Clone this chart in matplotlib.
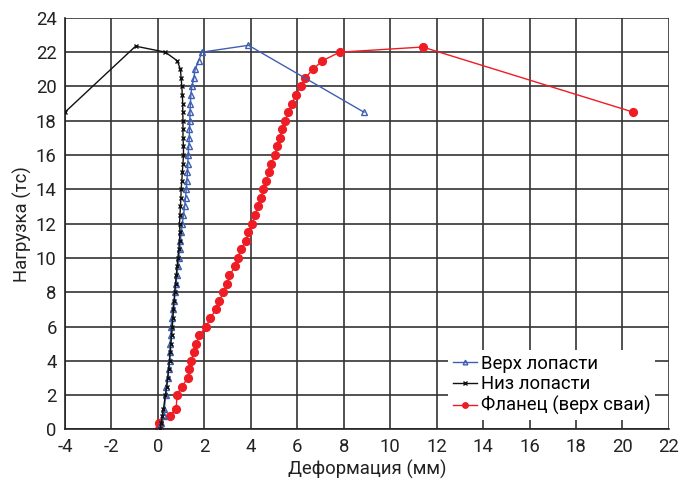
import matplotlib
matplotlib.use("Agg")
import matplotlib.pyplot as plt

plt.rcParams["font.family"] = ["Roboto", "DejaVu Sans"]
plt.rcParams["axes.unicode_minus"] = False

# load steps shared by all three gauges (tc)
loads = [0, 0.4, 0.8, 1.2, 2.0, 2.5, 3.0, 3.5, 4.0, 4.5, 5.0, 5.5, 6.0, 6.5,
         7.0, 7.5, 8.0, 8.5, 9.0, 9.5, 10.0, 10.5, 11.0, 11.5, 12.0, 12.5,
         13.0, 13.5, 14.0, 14.5, 15.0, 15.5, 16.0, 16.5, 17.0, 17.5, 18.0,
         18.5, 19.0, 19.5, 20.0, 20.5, 21.0, 21.5, 22.0]

# blade top
top_x = [0.10, 0.15, 0.25, 0.28, 0.33, 0.36, 0.43, 0.46, 0.50, 0.51, 0.53,
         0.55, 0.57, 0.60, 0.64, 0.70, 0.75, 0.78, 0.81, 0.85, 0.90, 0.93,
         0.97, 1.00, 1.05, 1.10, 1.15, 1.19, 1.22, 1.25, 1.27, 1.29, 1.30,
         1.33, 1.35, 1.36, 1.38, 1.38, 1.40, 1.42, 1.46, 1.55, 1.60, 1.76, 1.89]
top_tail_x = [3.90, 8.87]
top_tail_y = [22.4, 18.5]

# blade bottom
bot_x = [0.10, 0.15, 0.19, 0.24, 0.32, 0.38, 0.42, 0.46, 0.50, 0.53, 0.56,
         0.59, 0.62, 0.65, 0.67, 0.70, 0.72, 0.76, 0.79, 0.83, 0.86, 0.90,
         0.93, 0.95, 0.93, 0.95, 0.97, 0.99, 1.00, 1.03, 1.05, 1.08, 1.10,
         1.10, 1.08, 1.08, 1.08, 1.07, 1.07, 1.05, 1.03, 1.00, 0.97, 0.83, 0.32]
bot_tail_x = [-0.96, -4.0]
bot_tail_y = [22.35, 18.5]

# flange (pile head)
fl_x = [0.04, 0.05, 0.50, 0.79, 0.82, 1.03, 1.29, 1.36, 1.43, 1.55, 1.65,
        1.79, 2.08, 2.26, 2.50, 2.65, 2.82, 2.98, 3.08, 3.33, 3.43, 3.58,
        3.79, 3.90, 4.05, 4.19, 4.29, 4.44, 4.54, 4.65, 4.79, 4.87, 5.05,
        5.11, 5.25, 5.34, 5.48, 5.62, 5.77, 5.94, 6.17, 6.34, 6.68, 7.08, 7.83]
fl_tail_x = [11.4, 20.47]
fl_tail_y = [22.3, 18.5]

FS = 13.3

fig = plt.figure(figsize=(6.84, 4.83), dpi=100)
ax = fig.add_axes([0.095, 0.111, 0.883, 0.852])

ax.plot(top_x + top_tail_x, loads + top_tail_y, color="#3f5fb0", lw=1.0,
        marker="^", ms=4.8, mfc="none", mew=1.0, label="Верх лопасти", zorder=3)
ax.plot(bot_x + bot_tail_x, loads + bot_tail_y, color="#111111", lw=1.0,
        marker="x", ms=3.5, mew=1.0, label="Низ лопасти", zorder=3)
ax.plot(fl_x + fl_tail_x, loads + fl_tail_y, color="#ee1c24", lw=1.0,
        marker="o", ms=5.6, label="Фланец (верх сваи)", zorder=2)

ax.set_xlim(-4, 22)
ax.set_ylim(0, 24)
ax.set_xticks(range(-4, 23, 2))
ax.set_yticks(range(0, 25, 2))
ax.grid(True, color="#333333", lw=1.2)
ax.set_axisbelow(True)
for side in ["top", "right"]:
    ax.spines[side].set_visible(False)
for side in ["left", "bottom"]:
    ax.spines[side].set_color("#222222")
    ax.spines[side].set_linewidth(1.2)
ax.tick_params(length=0, labelsize=FS, colors="#222222", pad=6)

ax.set_xlabel("Деформация (мм)", fontsize=FS, color="#222222", labelpad=3)
ax.set_ylabel("Нагрузка (тс)", fontsize=FS, color="#222222", labelpad=3)

leg = ax.legend(loc="lower right", bbox_to_anchor=(0.977, 0.023), fontsize=FS,
                frameon=True, fancybox=False, framealpha=1, edgecolor="white",
                borderpad=0.25, handlelength=1.3, handletextpad=0.2,
                labelspacing=0.15, borderaxespad=0, markerscale=0.7)
leg.get_frame().set_linewidth(0)

fig.savefig("out.png", dpi=100)
